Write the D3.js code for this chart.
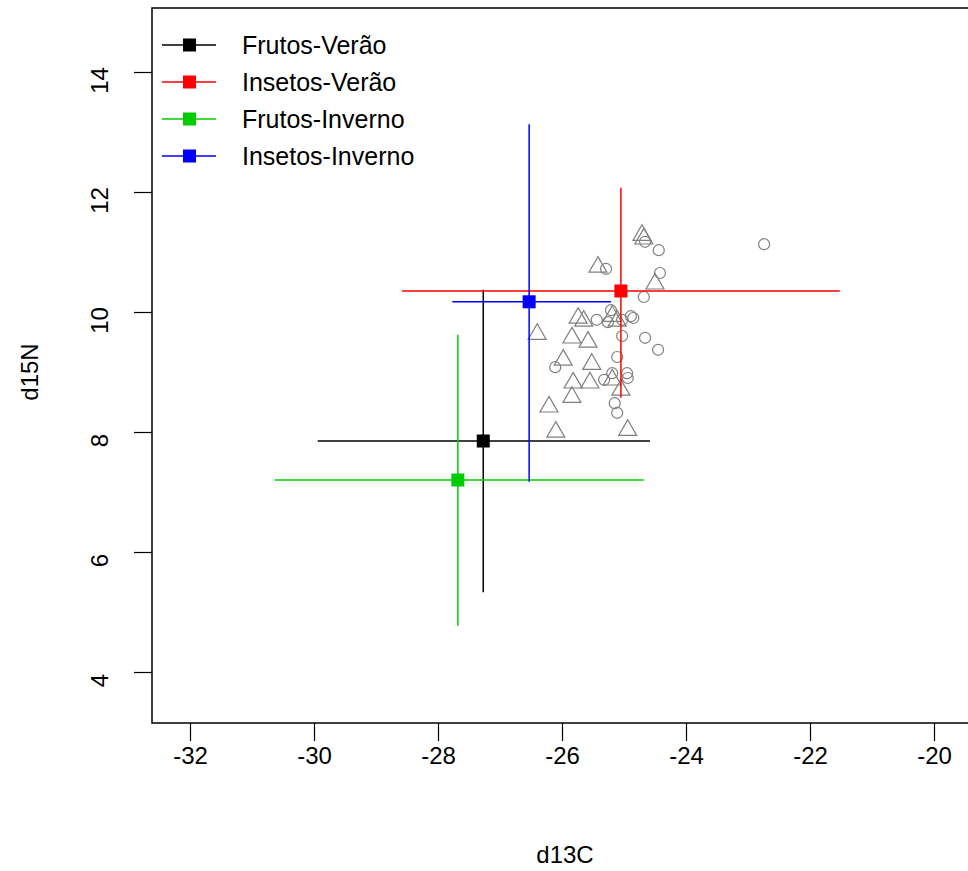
<!DOCTYPE html>
<html>
<head>
<meta charset="utf-8">
<script src="https://cdn.jsdelivr.net/npm/d3@7"></script>
<style>
  body { margin: 0; background: #fff; }
  svg { display: block; font-family: "Liberation Sans", Arial, sans-serif; }
</style>
</head>
<body>
<svg id="chart" width="968" height="871"></svg>
<script>
// Groupes (moyenne +/- dp)
const groups = ["Frutos-Verão", "Insetos-Verão", "Frutos-Inverno", "Insetos-Inverno"];
const groupColors = ["#000000", "#ff0000", "#00cd00", "#0000ff"];
const meanC = [-27.27, -25.05, -27.68, -26.53];
const meanN = [7.85, 10.35, 7.20, 10.17];
const minC = [-29.94, -28.58, -30.63, -27.77];
const maxC = [-24.58, -21.52, -24.68, -25.21];
const minN = [5.33, 8.57, 4.77, 7.17];
const maxN = [10.37, 12.07, 9.62, 13.13];

// Consumidores - cercles
const circC = [-22.74, -24.44, -24.66, -24.42, -24.68, -25.29, -25.44, -25.21, -25.26, -25.03, -24.89, -24.85,
               -25.03, -24.66, -24.45, -25.11, -26.11, -25.19, -24.95, -25.32, -24.94, -25.15, -25.11];
const circN = [11.13, 11.03, 11.17, 10.65, 10.25, 10.72, 9.87, 10.03, 9.83, 9.87, 9.93, 9.90,
               9.60, 9.57, 9.37, 9.25, 9.08, 8.98, 8.98, 8.87, 8.90, 8.48, 8.32];
// Consumidores - triangles
const triC = [-25.42, -24.71, -24.68, -24.50, -26.40, -25.84, -25.58, -25.98, -25.52, -25.74, -25.65,
              -25.19, -25.11, -25.82, -25.55, -25.84, -26.21, -26.10, -24.94, -25.05, -25.19];
const triN = [10.75, 11.28, 11.22, 10.47, 9.63, 9.57, 9.50, 9.20, 9.13, 9.90, 9.85,
              9.93, 9.85, 8.82, 8.82, 8.58, 8.42, 8.00, 8.03, 8.70, 8.87];

const xTicks = [-32, -30, -28, -26, -24, -22, -20];
const yTicks = [4, 6, 8, 10, 12, 14];

const svg = d3.select('#chart');
const box = {left: 152, top: 8, bottom: 723, right: 990};

const x = d3.scaleLinear().domain([-32, -20]).range([190, 934]);
const y = d3.scaleLinear().domain([4, 14]).range([672, 72]);

// Cadre
svg.append('rect')
    .attr('x', box.left).attr('y', box.top)
    .attr('width', box.right - box.left).attr('height', box.bottom - box.top)
    .attr('fill', 'none').attr('stroke', '#000').attr('stroke-width', 1.5);

// Axes
const xAxis = svg.append('g')
    .attr('transform', `translate(0,${box.bottom})`)
    .call(d3.axisBottom(x).tickValues(xTicks).tickSize(18).tickPadding(6).tickFormat(d3.format('d')));
xAxis.select('.domain').remove();
xAxis.selectAll('line').attr('stroke-width', 1.2);
xAxis.selectAll('text').style('font-size', '24px').attr('fill', '#000').text(d => String(d));

const yAxis = svg.append('g')
    .attr('transform', `translate(${box.left},0)`)
    .call(d3.axisLeft(y).tickValues(yTicks).tickSize(18).tickFormat(d3.format('d')));
yAxis.select('.domain').remove();
yAxis.selectAll('line').attr('stroke-width', 1.2);
yAxis.selectAll('text')
    .style('font-size', '24px').attr('fill', '#000')
    .attr('x', 0).attr('dy', 0)
    .attr('text-anchor', 'middle')
    .attr('transform', 'translate(-44,8) rotate(-90)');

// Titres des axes
svg.append('text').attr('x', 565).attr('y', 863).attr('text-anchor', 'middle')
    .style('font-size', '24px').text('d13C');
svg.append('text').attr('transform', 'translate(38,372) rotate(-90)').attr('text-anchor', 'middle')
    .style('font-size', '24px').text('d15N');

// Points
const grey = '#7f7f7f';
svg.append('g').selectAll('circle')
    .data(d3.range(circC.length))
    .enter().append('circle')
    .attr('cx', i => x(circC[i])).attr('cy', i => y(circN[i]))
    .attr('r', 5.5).attr('fill', 'none').attr('stroke', grey).attr('stroke-width', 1.2);

const tri = d3.symbol().type(d3.symbolTriangle).size(140);
svg.append('g').selectAll('path')
    .data(d3.range(triC.length))
    .enter().append('path')
    .attr('d', tri)
    .attr('transform', i => `translate(${x(triC[i])},${y(triN[i])})`)
    .attr('fill', 'none').attr('stroke', grey).attr('stroke-width', 1.2);

// Barres d'erreur
const eb = svg.append('g');
groups.forEach((g, i) => {
    eb.append('line').attr('x1', x(minC[i])).attr('x2', x(maxC[i]))
        .attr('y1', y(meanN[i])).attr('y2', y(meanN[i]))
        .attr('stroke', groupColors[i]).attr('stroke-width', 1.5);
    eb.append('line').attr('x1', x(meanC[i])).attr('x2', x(meanC[i]))
        .attr('y1', y(minN[i])).attr('y2', y(maxN[i]))
        .attr('stroke', groupColors[i]).attr('stroke-width', 1.5);
    eb.append('rect').attr('x', x(meanC[i]) - 6.5).attr('y', y(meanN[i]) - 6.5)
        .attr('width', 13).attr('height', 13).attr('fill', groupColors[i]);
});

// Légende
const leg = svg.append('g');
groups.forEach((g, i) => {
    const ly = 45 + i * 37;
    leg.append('line').attr('x1', 162).attr('x2', 216).attr('y1', ly).attr('y2', ly)
        .attr('stroke', groupColors[i]).attr('stroke-width', 1.5);
    leg.append('rect').attr('x', 183).attr('y', ly - 6.5).attr('width', 13).attr('height', 13)
        .attr('fill', groupColors[i]);
    leg.append('text').attr('x', 242).attr('y', ly + 9).style('font-size', '25px').text(g);
});
</script>
</body>
</html>
